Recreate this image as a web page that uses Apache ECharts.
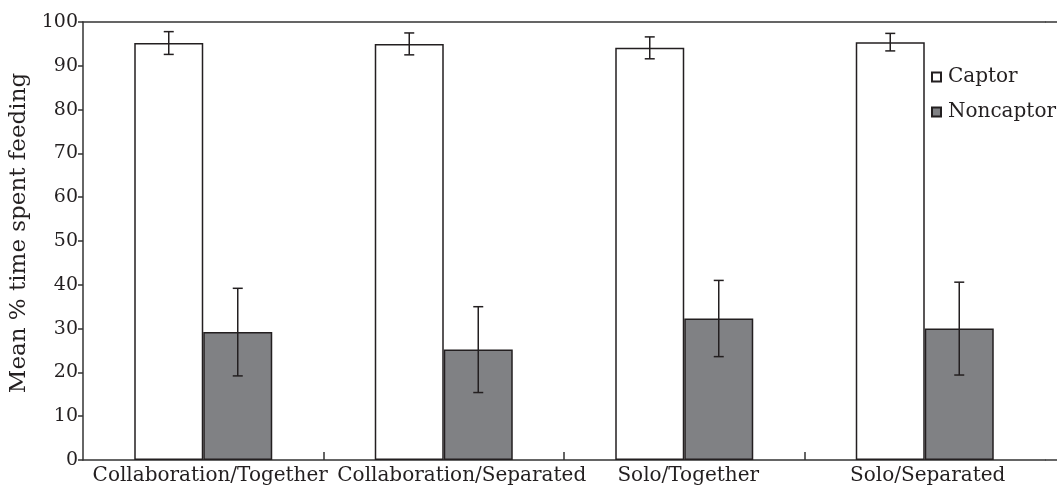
<!DOCTYPE html>
<html>
<head>
<meta charset="utf-8">
<script src="https://cdn.jsdelivr.net/npm/echarts@6/dist/echarts.min.js"></script>
<style>
html,body{margin:0;padding:0;background:#fff;}
#c{width:1057px;height:488px;}
</style>
</head>
<body>
<div id="c"></div>
<script>
const categories = ['Collaboration/Together', 'Collaboration/Separated', 'Solo/Together', 'Solo/Separated'];
const captorMean = [95.2, 95.0, 94.1, 95.4];
const captorErr = [2.6, 2.5, 2.5, 2.0];
const noncaptorMean = [29.2, 25.2, 32.3, 30.0];
const noncaptorErr = [10.0, 9.8, 8.7, 10.6];
const yTicks = [0, 10, 20, 30, 40, 50, 60, 70, 80, 90, 100];

const FONT = 'DejaVu Serif';
const TEXT = '#231f20';
const LINE = '#333333';
const GRID = {left: 83, right: 12, top: 22, bottom: 28};
const BAR_W = 69;
// per-label horizontal nudges (px) to mimic the original label placement
const LABEL_SHIFT = [7, 18, 4, 3];

const chart = echarts.init(document.getElementById('c'), null, {renderer: 'canvas'});

function errSeries(name, means, errs, offset) {
  return {
    type: 'custom',
    name: name + ' err',
    xAxisIndex: 0, yAxisIndex: 0,
    silent: true,
    z: 10,
    data: means.map((m, i) => [i, m - errs[i], m + errs[i]]),
    renderItem: function (params, api) {
      const lo = api.coord([api.value(0), api.value(1)]);
      const hi = api.coord([api.value(0), api.value(2)]);
      const x = lo[0] + offset;
      const cap = 5;
      const st = {stroke: '#231f20', lineWidth: 1.5};
      return {
        type: 'group',
        children: [
          {type: 'line', shape: {x1: x, y1: hi[1], x2: x, y2: lo[1]}, style: st},
          {type: 'line', shape: {x1: x - cap, y1: hi[1], x2: x + cap, y2: hi[1]}, style: st},
          {type: 'line', shape: {x1: x - cap, y1: lo[1], x2: x + cap, y2: lo[1]}, style: st}
        ]
      };
    }
  };
}

const rich = {};
LABEL_SHIFT.forEach((s, i) => {
  rich['l' + i] = {fontFamily: FONT, fontSize: 20, color: TEXT, padding: [0, 0, 0, 2 * s]};
});
const boundaryTicks = categories.slice(1).map((_, i) => i + 1);

const option = {
  animation: false,
  backgroundColor: '#ffffff',
  grid: {left: GRID.left, right: GRID.right, top: GRID.top, bottom: GRID.bottom,
    containLabel: false, outerBoundsMode: 'none'},
  legend: {
    left: 931, top: 66, orient: 'vertical', itemGap: 13, padding: 0,
    itemWidth: 9, itemHeight: 9, icon: 'rect',
    textStyle: {fontFamily: FONT, fontSize: 20, color: TEXT, lineHeight: 22, padding: [0, 0, 0, 2]},
    data: ['Captor', 'Noncaptor']
  },
  xAxis: [{
    type: 'category',
    data: categories,
    position: 'bottom',
    axisLine: {show: true, lineStyle: {color: LINE, width: 1.5}},
    axisTick: {show: false},
    axisLabel: {fontFamily: FONT, fontSize: 20, color: TEXT, margin: 6, interval: 0,
      formatter: function (v, i) { return '{l' + i + '|' + v + '}'; }, rich: rich},
    splitLine: {show: false}
  }, {
    type: 'category',
    data: categories,
    position: 'top',
    axisLine: {show: true, lineStyle: {color: LINE, width: 1.5}},
    axisTick: {show: false},
    axisLabel: {show: false}
  }, {
    type: 'value',
    min: 0, max: categories.length,
    position: 'bottom',
    axisLine: {show: false},
    axisTick: {show: true, inside: true, length: 8, lineStyle: {color: LINE, width: 1.5},
      customValues: boundaryTicks},
    axisLabel: {show: false},
    splitLine: {show: false}
  }],
  yAxis: {
    type: 'value',
    min: 0, max: 100, interval: 10,
    name: 'Mean % time spent feeding',
    nameLocation: 'middle',
    nameGap: 46,
    nameTextStyle: {fontFamily: FONT, fontSize: 23, color: TEXT, padding: [0, 0, 0, 16]},
    axisLine: {show: true, lineStyle: {color: LINE, width: 1.5}},
    axisTick: {show: true, length: 5, lineStyle: {color: LINE, width: 1.5}},
    axisLabel: {fontFamily: FONT, fontSize: 19, color: TEXT, margin: 5,
      customValues: yTicks},
    splitLine: {show: false}
  },
  series: [{
    type: 'bar',
    name: 'Captor',
    data: captorMean,
    barWidth: BAR_W,
    barGap: 0,
    itemStyle: {color: '#ffffff', borderColor: '#231f20', borderWidth: 1.5}
  }, {
    type: 'bar',
    name: 'Noncaptor',
    data: noncaptorMean,
    barWidth: BAR_W,
    barGap: 0,
    itemStyle: {color: '#808184', borderColor: '#231f20', borderWidth: 1.5}
  },
  errSeries('Captor', captorMean, captorErr, -BAR_W / 2),
  errSeries('Noncaptor', noncaptorMean, noncaptorErr, BAR_W / 2)
  ],
  graphic: [
    {type: 'line', shape: {x1: 1057 - GRID.right, y1: 488 - GRID.bottom, x2: 1057, y2: 488 - GRID.bottom},
      style: {stroke: LINE, lineWidth: 1.5}, silent: true},
    {type: 'line', shape: {x1: 1057 - GRID.right, y1: GRID.top, x2: 1057, y2: GRID.top},
      style: {stroke: LINE, lineWidth: 1.5}, silent: true}
  ]
};
chart.setOption(option);
</script>
</body>
</html>
